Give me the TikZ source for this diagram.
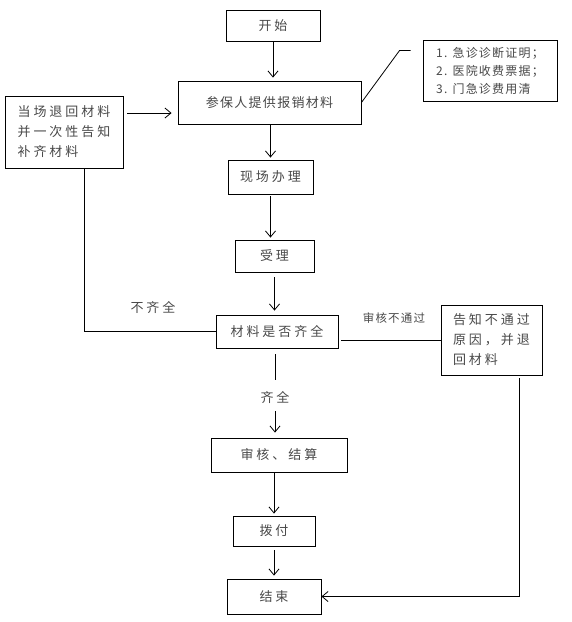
\documentclass[tikz,border=0pt]{standalone}
\usepackage{fontspec}
\setmainfont{Noto Sans CJK SC}[LetterSpace=23]
\newfontfamily\tightcjk{Noto Sans CJK SC}[LetterSpace=10]
\usetikzlibrary{arrows.meta,calc}
\definecolor{txt}{RGB}{72,72,72}
\tikzset{
  box/.style={draw, line width=0.9pt, inner sep=0pt, align=center, text=txt,
    font=\fontsize{13}{20}\selectfont},
  lbl/.style={inner sep=0pt, text=txt, font=\fontsize{13}{16}\selectfont},
  arr/.style={-{Straight Barb[length=6pt,width=10pt]}, line width=0.8pt},
  ln/.style={line width=0.8pt}
}
\begin{document}
\begin{tikzpicture}[x=1pt,y=-1pt]
\useasboundingbox (0,0) rectangle (572,622);
% nodes
\node[box, minimum width=94pt, minimum height=31pt] (start) at (273,25.5) {开始};
\node[box, minimum width=183pt, minimum height=43pt, font=\tightcjk\fontsize{13}{16}\selectfont] (provide) at (269.5,102.5) {参保人提供报销材料};
\node[box, minimum width=134pt, minimum height=61pt, align=left, font=\tightcjk\fontsize{12}{18}\selectfont] (note) at (490,70.5) {1. 急诊诊断证明；\\2. 医院收费票据；\\3. 门急诊费用清};
\node[box, minimum width=118pt, minimum height=72pt, align=left] (left) at (64,132) {当场退回材料\\并一次性告知\\补齐材料};
\node[box, minimum width=85pt, minimum height=34pt] (onsite) at (270.5,177) {现场办理};
\node[box, minimum width=79pt, minimum height=32pt] (accept) at (274.5,256) {受理};
\node[box, minimum width=122pt, minimum height=33pt] (check) at (277,331.5) {材料是否齐全};
\node[box, minimum width=101pt, minimum height=70pt, align=left] (inform) at (491.5,340) {告知不通过\\原因，并退\\回材料};
\node[box, minimum width=136pt, minimum height=34pt] (audit) at (279,455) {审核、结算};
\node[box, minimum width=82pt, minimum height=30pt] (pay) at (274,531) {拨付};
\node[box, minimum width=94pt, minimum height=35pt] (end) at (274,596.5) {结束};
% labels
\node[lbl] (notall) at (153,307) {不齐全};
\node[lbl, font=\tightcjk\fontsize{11.5}{14}\selectfont] (fail) at (394,318) {审核不通过};
\node[lbl] (all) at (275,397) {齐全};
% helper coordinates
\coordinate (ly) at (0,113);
\coordinate (bend) at ($(note.west)+(-23,-20)$);
\coordinate (noteend) at ($(note.west)+(-12,-20)$);
% connectors
\draw[arr, shorten >=3pt] (start.south) -- (start.south |- provide.north);
\draw[ln] (provide.east) -- (bend) -- (noteend);
\draw[arr, shorten <=4pt, shorten >=6pt] (left.east |- ly) -- (provide.west |- ly);
\draw[arr, shorten >=2pt] (onsite.north |- provide.south) -- (onsite.north);
\draw[arr, shorten <=2pt, shorten >=2pt] (onsite.south) -- (onsite.south |- accept.north);
\draw[arr, shorten <=5pt, shorten >=4pt] (accept.south) -- (accept.south |- check.north);
\draw[ln] ($(left.south)+(20,0)$) |- (check.west);
\draw[ln] (inform.west) -- ($(check.east)+(3,8.5)$);
\draw[ln, shorten <=6pt, shorten >=11pt] (all.north |- check.south) -- (all.north);
\draw[arr, shorten <=8pt, shorten >=5pt] (all.south) -- (all.south |- audit.north);
\draw[arr, shorten >=2pt] (pay.north |- audit.south) -- (pay.north);
\draw[arr, shorten <=4pt, shorten >=3pt] (pay.south) -- (end.north);
\draw[arr] ($(inform.south)+(27.5,3)$) |- (end.east);
\end{tikzpicture}
\end{document}
